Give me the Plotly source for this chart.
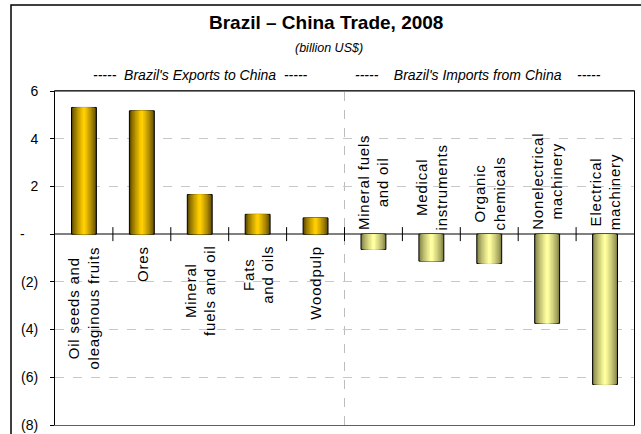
import plotly.graph_objects as go

# ---- data ----
export_cats = ["Oil seeds and<br>oleaginous fruits", "Ores", "Mineral<br>fuels and oil",
               "Fats<br>and oils", "Woodpulp"]
export_vals = [5.31, 5.17, 1.66, 0.83, 0.68]
import_cats = ["Mineral fuels<br>and oil", "Medical<br>instruments", "Organic<br>chemicals",
               "Nonelectrical<br>machinery", "Electrical<br>machinery"]
import_vals = [-0.64, -1.13, -1.23, -3.74, -6.30]
y_tickvals = [-8, -6, -4, -2, 0, 2, 4, 6]
y_ticktext = ["(8)", "(6)", "(4)", "(2)", "", "2", "4", "6"]
zero_label = "-"

title = "Brazil \u2013 China Trade, 2008"
subtitle = "(billion US$)"
exp_head = "-----\u00a0\u00a0Brazil's Exports to China\u00a0\u00a0-----"
imp_head = "-----\u00a0\u00a0\u00a0\u00a0Brazil's Imports from China\u00a0\u00a0\u00a0\u00a0-----"

# ---- geometry helpers ----
W, H = 641, 434
L, R, T, B = 55, 7, 91, 9
pw, ph = W - L - R, H - T - B

def px_x(px):
    return (px - L) / pw

def px_y(py):
    return (H - B - py) / ph

FONT = "Liberation Sans, Arial, sans-serif"
NARROW = "Liberation Sans Narrow, Liberation Sans, Arial, sans-serif"

def spaced(label, sp=0.8):
    return "<br>".join('<span style="letter-spacing:%gpx">%s</span>' % (sp, part)
                       for part in label.split("<br>"))

n_exp = len(export_cats)
x_exp = list(range(n_exp))
x_imp = [n_exp + i for i in range(len(import_cats))]

def lerp(c1, c2, t):
    return "rgb(%d,%d,%d)" % tuple(round(a + (b - a) * t) for a, b in zip(c1, c2))

fig = go.Figure()

BAR_W = 0.43
N = 9
series = [
    (x_exp, export_vals, (95, 75, 0), (255, 206, 0)),
    (x_imp, import_vals, (130, 130, 70), (255, 255, 160)),
]
for xs, ys, edge, center in series:
    for k in range(N):
        t = k / (N - 1)
        fig.add_trace(go.Bar(
            x=xs, y=ys, width=BAR_W * (1 - k / N),
            marker=dict(color=lerp(edge, center, t ** 0.8),
                        line=dict(color="black" if k == 0 else "rgba(0,0,0,0)",
                                  width=1 if k == 0 else 0)),
            showlegend=False, hoverinfo="skip",
        ))

# crossing tick marks on the zero line at category boundaries
n_all = n_exp + len(import_cats)
fig.add_trace(go.Scatter(
    x=[i + 0.5 for i in range(n_all - 1)], y=[0] * (n_all - 1), mode="markers",
    marker=dict(symbol="line-ns", size=10, line=dict(color="black", width=1)),
    showlegend=False, hoverinfo="skip", cliponaxis=False,
))

annotations = []
for x, lab in zip(x_exp, export_cats):
    annotations.append(dict(x=x, y=0, xref="x", yref="y", text=spaced(lab), textangle=-90,
                            showarrow=False, xanchor="center", yanchor="top", yshift=-10,
                            align="center", font=dict(family=FONT, size=15, color="black")))
for x, lab in zip(x_imp, import_cats):
    annotations.append(dict(x=x, y=0, xref="x", yref="y", text=spaced(lab), textangle=-90,
                            showarrow=False, xanchor="center", yanchor="bottom", yshift=2,
                            align="center", font=dict(family=FONT, size=15, color="black")))

annotations += [
    dict(x=px_x(22), y=0, xref="paper", yref="y", text=zero_label,
         showarrow=False, xanchor="center", yanchor="middle",
         font=dict(family=NARROW, size=14, color="black")),
    dict(x=px_x(326), y=px_y(23), xref="paper", yref="paper", text="<b>%s</b>" % title,
         showarrow=False, xanchor="center", yanchor="middle",
         font=dict(family=FONT, size=19, color="black")),
    dict(x=px_x(329), y=px_y(48), xref="paper", yref="paper", text="<i>%s</i>" % subtitle,
         showarrow=False, xanchor="center", yanchor="middle",
         font=dict(family=FONT, size=12.5, color="black")),
    dict(x=px_x(200), y=px_y(75), xref="paper", yref="paper", text="<i>%s</i>" % exp_head,
         showarrow=False, xanchor="center", yanchor="middle",
         font=dict(family=FONT, size=14, color="black")),
    dict(x=px_x(478), y=px_y(75), xref="paper", yref="paper", text="<i>%s</i>" % imp_head,
         showarrow=False, xanchor="center", yanchor="middle",
         font=dict(family=FONT, size=14, color="black")),
]

shapes = [
    dict(type="line", xref="x", yref="y", x0=n_exp - 0.5, x1=n_exp - 0.5,
         y0=y_tickvals[0], y1=y_tickvals[-1],
         line=dict(color="#bdbdbd", width=1, dash="dash"), layer="below"),
    dict(type="line", xref="paper", yref="paper", x0=0, x1=1, y0=1, y1=1,
         line=dict(color="black", width=1.2), layer="above"),
    dict(type="rect", xref="paper", yref="paper", x0=px_x(11), x1=px_x(650),
         y0=px_y(445), y1=px_y(5), line=dict(color="black", width=1.5),
         fillcolor="rgba(0,0,0,0)", layer="above"),
]

fig.update_layout(
    width=W, height=H, autosize=False,
    margin=dict(l=L, r=R, t=T, b=B, autoexpand=False),
    paper_bgcolor="white", plot_bgcolor="white",
    barmode="overlay", showlegend=False,
    annotations=annotations, shapes=shapes,
    xaxis=dict(range=[-0.5, n_all - 0.5], showticklabels=False, showgrid=False,
               zeroline=False, showline=True, mirror=True, linecolor="#606060",
               linewidth=1, ticks="", fixedrange=True, automargin=False),
    yaxis=dict(range=[y_tickvals[0], y_tickvals[-1]], tickvals=y_tickvals, ticktext=y_ticktext,
               ticks="outside", ticklen=4, tickcolor="black", ticklabelstandoff=9,
               showline=True, mirror=True, linecolor="black", linewidth=1,
               showgrid=True, gridcolor="#c8c8c8", griddash="dash", gridwidth=1,
               zeroline=True, zerolinecolor="#808080", zerolinewidth=2, automargin=False,
               tickfont=dict(family=NARROW, size=14, color="black"), fixedrange=True),
)

fig.write_html("out.html")
